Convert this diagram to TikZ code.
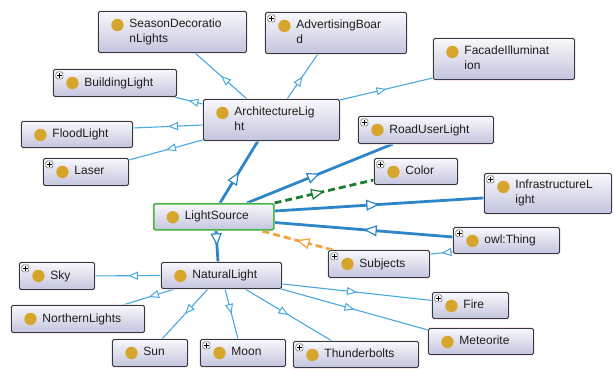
\documentclass[tikz,border=0pt]{standalone}
\usepackage{fontspec}
\setmainfont{Liberation Sans}
\usetikzlibrary{arrows.meta,decorations.markings,calc}
\definecolor{thinc}{HTML}{4AA8E0}
\definecolor{thickc}{HTML}{2C86C8}
\definecolor{greenc}{HTML}{1E7B2F}
\definecolor{orangec}{HTML}{F5A23C}
\definecolor{bul}{HTML}{D6A62C}
\definecolor{bord}{HTML}{2E3A48}
\definecolor{glow}{HTML}{F7DDD3}
\definecolor{lsgreen}{HTML}{47B548}
\definecolor{topc}{HTML}{F8F8FC}
\definecolor{botc}{HTML}{C4C4DE}
\definecolor{txt}{HTML}{1E1E1E}
\newcommand\mystrut{\rule[-2.6pt]{0pt}{11.2pt}}
\pgfdeclarelayer{bg}
\pgfsetlayers{bg,main}
\tikzset{
  cls/.style={draw=bord, line width=0.9pt, rounded corners=1.5pt,
    top color=topc, bottom color=botc, anchor=north west,
    inner xsep=0pt, inner ysep=0pt, align=left, text=txt,
    font=\fontsize{12}{15}\selectfont,
    execute at begin node=\mystrut, execute at end node=\mystrut,
    preaction={draw=glow, line width=2.2pt},
    path picture={\fill[bul] ([xshift=19pt,yshift=-13.5pt]path picture bounding box.north west) circle (6.2pt);}},
  plus/.style={postaction={path picture={
    \draw[gray!70!black, fill=white, line width=0.5pt] ([xshift=2.5pt,yshift=-2.5pt]path picture bounding box.north west) rectangle ++(7pt,-7pt);
    \draw[black, line width=0.7pt] ([xshift=3.9pt,yshift=-6pt]path picture bounding box.north west) -- ++(4.2pt,0pt);
    \draw[black, line width=0.7pt] ([xshift=6pt,yshift=-3.9pt]path picture bounding box.north west) -- ++(0pt,-4.2pt);}}},
  thinE/.style={color=thinc, line width=1.1pt, postaction=decorate,
    decoration={markings, mark=at position 0.5 with {\arrow{Triangle[fill=white, length=10pt, width=8pt, line width=1pt]}}}},
  thickE/.style={color=thickc, line width=2.8pt, postaction=decorate,
    decoration={markings, mark=at position 0.5 with {\arrow{Triangle[fill=white, length=13pt, width=11pt, line width=1.2pt]}}}},
  greenE/.style={color=greenc, line width=2.8pt, dash pattern=on 7pt off 4pt, postaction=decorate,
    decoration={markings, mark=at position 0.5 with {\arrow{Triangle[fill=white, length=13pt, width=11pt, line width=1.2pt]}}}},
  orangeE/.style={color=orangec, line width=2.8pt, dash pattern=on 7pt off 4pt, postaction=decorate,
    decoration={markings, mark=at position 0.5 with {\arrow{Triangle[fill=white, length=13pt, width=11pt, line width=1.2pt]}}}},
}
\newcommand\cls[7]{%
  \pgfmathsetmacro\myw{#4-#2}%
  \pgfmathsetmacro\myh{#5-#3}%
  \pgfmathsetmacro\mytw{#4-#2-62}%
  \node[cls,#6, minimum width=\myw pt, minimum height=\myh pt, text width=\mytw pt] (#1) at (#2,#3) {#7};}
\begin{document}
\begin{tikzpicture}[x=1pt,y=-1pt]
\useasboundingbox (0,0) rectangle (613,368);
\cls{sdl}{98}{11}{246}{52}{}{SeasonDecoratio\\nLights}
\cls{ab}{265}{12}{406}{53}{plus}{AdvertisingBoar\\d}
\cls{fi}{433}{38}{574}{79}{}{FacadeIlluminat\\ion}
\cls{bl}{53}{69}{176}{96}{plus}{BuildingLight}
\cls{al}{203}{99}{339}{140}{}{ArchitectureLig\\ht}
\cls{fl}{21}{121}{132}{147}{}{FloodLight}
\cls{la}{43}{158}{128}{185}{plus}{Laser}
\cls{ru}{358}{116}{493}{143}{plus}{RoadUserLight}
\cls{co}{374}{158}{457}{184}{plus}{Color}
\cls{ls}{153}{203}{273}{229}{draw=lsgreen, line width=1.5pt}{LightSource}
\cls{il}{484}{173}{611}{213}{plus}{InfrastructureL\\ight}
\cls{th}{453}{227}{559}{253}{plus}{owl:Thing}
\cls{su}{328}{250}{429}{277}{plus}{Subjects}
\cls{nl}{161}{262}{281}{288}{}{NaturalLight}
\cls{sk}{19}{262}{94}{289}{plus}{Sky}
\cls{nol}{11}{305}{144}{332}{}{NorthernLights}
\cls{sun}{112}{339}{187}{366}{}{Sun}
\cls{mo}{200}{339}{285}{366}{plus}{Moon}
\cls{tb}{293}{341}{418}{367}{plus}{Thunderbolts}
\cls{fire}{432}{292}{508}{318}{plus}{Fire}
\cls{me}{428}{328}{533}{354}{}{Meteorite}
\begin{pgfonlayer}{bg}
\draw[thinE] ($(al.north west)+(44,0)$) -- ($(sdl.south west)+(97,0)$);
\draw[thinE] ($(al.north west)+(84,0)$) -- ($(ab.south west)+(53,0)$);
\draw[thinE] ($(al.north east)+(0,1)$) -- ($(fi.south west)+(0,-2)$);
\draw[thinE] ($(al.north west)+(0,5)$) -- ($(bl.south east)+(-3,0)$);
\draw[thinE] ($(al.north west)+(0,26)$) -- ($(fl.north east)+(0,7)$);
\draw[thinE] ($(al.south west)+(0,-1)$) -- ($(la.north east)+(0,2)$);
\draw[thickE] ($(ls.north west)+(67,0)$) -- ($(al.south west)+(55,0)$);
\draw[thickE] ($(ls.north west)+(94,0)$) -- ($(ru.south west)+(35,0)$);
\draw[greenE] (ls.north east) -- ($(co.south west)+(0,-5)$);
\draw[thickE] ($(ls.north east)+(0,8)$) -- ($(il.south west)+(0,-16)$);
\draw[thickE] ($(th.north west)+(0,10)$) -- ($(ls.south east)+(0,-8)$);
\draw[orangeE] ($(su.north west)+(5,0)$) -- ($(ls.south west)+(107,0)$);
\draw[thinE] ($(th.south west)+(0,-2)$) -- ($(su.north east)+(0,4)$);
\draw[thickE] ($(ls.south west)+(63,0)$) -- ($(nl.north west)+(57,0)$);
\draw[thinE] (nl.west) -- (sk.east);
\draw[thinE] ($(nl.south west)+(14,0)$) -- ($(nol.north west)+(112,0)$);
\draw[thinE] ($(nl.south west)+(47,0)$) -- ($(sun.north west)+(50,0)$);
\draw[thinE] ($(nl.south west)+(64,0)$) -- ($(mo.north west)+(38,0)$);
\draw[thinE] ($(nl.south west)+(84,0)$) -- ($(tb.north west)+(39,0)$);
\draw[thinE] ($(nl.south east)+(0,-5)$) -- ($(fire.west)+(0,-5)$);
\draw[thinE] ($(nl.south east)+(-1,0)$) -- ($(me.north west)+(0,2)$);
\end{pgfonlayer}
\end{tikzpicture}
\end{document}
